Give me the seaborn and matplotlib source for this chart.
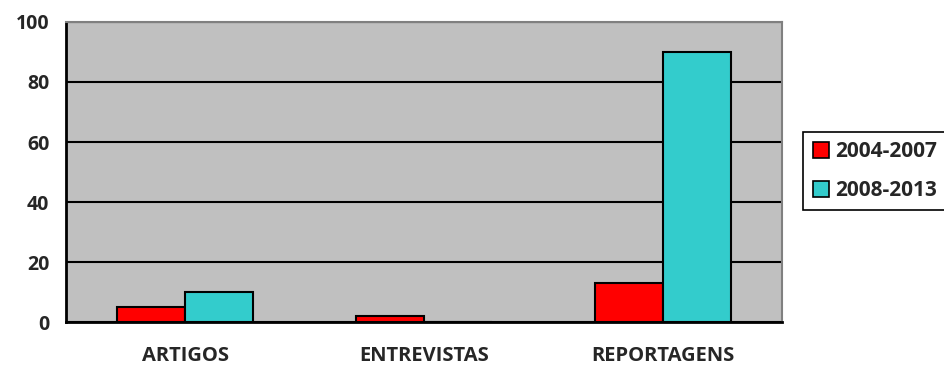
import numpy as np
import pandas as pd
import matplotlib
matplotlib.use("Agg")
import matplotlib.pyplot as plt
import seaborn as sns

# Data
categories = ["ARTIGOS", "ENTREVISTAS", "REPORTAGENS"]
periods = ["2004-2007", "2008-2013"]
values_2004_2007 = [5, 2, 13]
values_2008_2013 = [10, 0, 90]
colors = ["#FF0000", "#33CCCC"]

df = pd.DataFrame({
    "categoria": categories * 2,
    "periodo": [periods[0]] * 3 + [periods[1]] * 3,
    "valor": values_2004_2007 + values_2008_2013,
})

sns.set_style("white")
plt.rcParams["font.family"] = ["Open Sans", "DejaVu Sans"]
plt.rcParams["font.weight"] = "bold"

fig = plt.figure(figsize=(9.44, 3.72), dpi=100)
ax = fig.add_axes([0.0699, 0.134, 0.7585, 0.807])

sns.barplot(data=df, x="categoria", y="valor", hue="periodo",
            palette=colors, width=0.57, edgecolor="black", linewidth=1.5,
            saturation=1, ax=ax, legend=False)

ax.set_facecolor("#C0C0C0")
ax.set_xlim(-0.5, 2.5)
ax.set_ylim(0, 100)
ax.set_yticks(np.arange(0, 101, 20))
ax.yaxis.grid(True, color="black", linewidth=1.5)
ax.set_axisbelow(True)
ax.set_xlabel("")
ax.set_ylabel("")

# category labels without tick marks; tick marks at group boundaries
ax.tick_params(axis="x", which="major", length=0, pad=17, labelsize=14.5)
ax.set_xticks([-0.5, 0.5, 1.5, 2.5], minor=True)
ax.tick_params(axis="x", which="minor", length=7, width=1.5, color="black", direction="out")
ax.tick_params(axis="y", length=7, width=1.5, color="black", direction="out",
               labelsize=14, pad=5)
for lab in ax.get_xticklabels() + ax.get_yticklabels():
    lab.set_fontweight("bold")

for side in ["left", "bottom"]:
    ax.spines[side].set_color("black")
    ax.spines[side].set_linewidth(2)
for side in ["top", "right"]:
    ax.spines[side].set_color("#808080")
    ax.spines[side].set_linewidth(1.5)

handles = [matplotlib.patches.Patch(facecolor=c, edgecolor="black", linewidth=1.2) for c in colors]
leg = fig.legend(handles, periods, loc="upper left", bbox_to_anchor=(0.851, 0.646),
                 frameon=True, fancybox=False, framealpha=1, handlelength=0.8,
                 handleheight=0.8, handletextpad=0.3, labelspacing=0.85,
                 borderpad=0.45, borderaxespad=0, prop={"weight": "bold", "size": 15})
leg.get_frame().set_edgecolor("black")
leg.get_frame().set_linewidth(1.2)

fig.savefig("out.png", dpi=100)
